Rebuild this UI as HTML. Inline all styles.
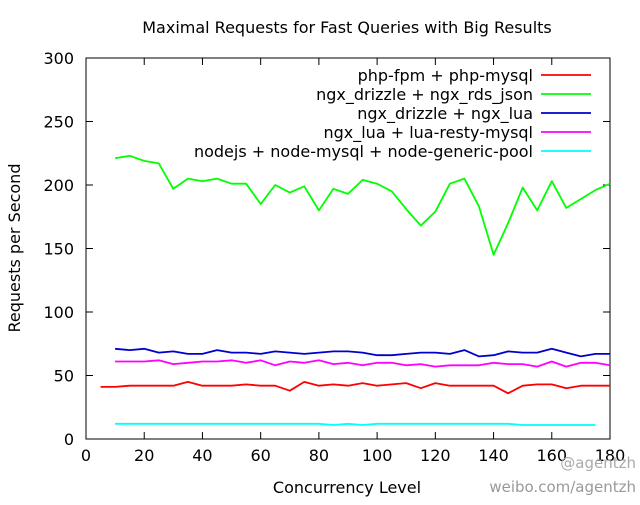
<!DOCTYPE html>
<html><head><meta charset="utf-8"><style>
body{margin:0;background:#fff}
svg text{font-family:"DejaVu Sans","Liberation Sans",sans-serif;fill:#000}
</style></head><body>
<svg id="chart" width="640" height="500" xmlns="http://www.w3.org/2000/svg">
<text x="347" y="33" font-size="16" text-anchor="middle">Maximal Requests for Fast Queries with Big Results</text>
<text x="0" y="0" font-size="16" text-anchor="middle" transform="translate(20,248) rotate(-90)">Requests per Second</text>
<text x="347" y="493" font-size="16" text-anchor="middle">Concurrency Level</text>
<g id="axes"></g><g id="series"></g><g id="legend"></g>
<text x="636" y="468" font-size="15" text-anchor="end" style="fill:#aaa">@agentzh</text>
<text x="636" y="492" font-size="15" text-anchor="end" style="fill:#999">weibo.com/agentzh</text>
</svg>
<script>
const xTicks=[0,20,40,60,80,100,120,140,160,180];
const yTicks=[0,50,100,150,200,250,300];
const seriesNames=["php-fpm + php-mysql","ngx_drizzle + ngx_rds_json","ngx_drizzle + ngx_lua","ngx_lua + lua-resty-mysql","nodejs + node-mysql + node-generic-pool"];
const seriesColors=["#ff0000","#00ff00","#0000cc","#ff00ff","#00ffff"];
const xRed=[5,10,15,20,25,30,35,40,45,50,55,60,65,70,75,80,85,90,95,100,105,110,115,120,125,130,135,140,145,150,155,160,165,170,175,180];
const xMain=[10,15,20,25,30,35,40,45,50,55,60,65,70,75,80,85,90,95,100,105,110,115,120,125,130,135,140,145,150,155,160,165,170,175,180];
const xCyan=[10,15,20,25,30,35,40,45,50,55,60,65,70,75,80,85,90,95,100,105,110,115,120,125,130,135,140,145,150,155,160,165,170,175];
const redVals=[41,41,42,42,42,42,45,42,42,42,43,42,42,38,45,42,43,42,44,42,43,44,40,44,42,42,42,42,36,42,43,43,40,42,42,42];
const greenVals=[221,223,219,217,197,205,203,205,201,201,185,200,194,199,180,197,193,204,201,195,181,168,179,201,205,183,145,170,198,180,203,182,189,196,201];
const blueVals=[71,70,71,68,69,67,67,70,68,68,67,69,68,67,68,69,69,68,66,66,67,68,68,67,70,65,66,69,68,68,71,68,65,67,67];
const magentaVals=[61,61,61,62,59,60,61,61,62,60,62,58,61,60,62,59,60,58,60,60,58,59,57,58,58,58,60,59,59,57,61,57,60,60,58];
const cyanVals=[12,12,12,12,12,12,12,12,12,12,12,12,12,12,12,11,12,11,12,12,12,12,12,12,12,12,12,12,11,11,11,11,11,11];

const L=86,R=610,T=58,B=439,NS="http://www.w3.org/2000/svg";
const xs=v=>L+(v-0)/(180-0)*(R-L);
const ys=v=>B-(v-0)/(300-0)*(B-T);
function mk(tag,attrs,parent){const e=document.createElementNS(NS,tag);for(const k in attrs)e.setAttribute(k,attrs[k]);parent.appendChild(e);return e;}
const axes=document.getElementById('axes');
const frame=mk('rect',{x:L,y:T,width:R-L,height:B-T,fill:'none',stroke:'#000','stroke-width':1},axes);


xTicks.forEach(t=>{
  const x=xs(t);
  const l1=mk('line',{x1:x,y1:B,x2:x,y2:B-7,stroke:'#000'},axes);
  
  
  const l2=mk('line',{x1:x,y1:T,x2:x,y2:T+7,stroke:'#000'},axes);
  
  
  const tx=mk('text',{x:x,y:B+22,'font-size':16,'text-anchor':'middle'},axes);
  tx.textContent=t;
  
  
});
yTicks.forEach(t=>{
  const y=ys(t);
  const l1=mk('line',{x1:L,y1:y,x2:L+7,y2:y,stroke:'#000'},axes);
  
  
  const l2=mk('line',{x1:R,y1:y,x2:R-7,y2:y,stroke:'#000'},axes);
  
  
  const tx=mk('text',{x:L-12,y:y+6,'font-size':16,'text-anchor':'end'},axes);
  tx.textContent=t;
  
  
});
const data=[[xRed,redVals],[xMain,greenVals],[xMain,blueVals],[xMain,magentaVals],[xCyan,cyanVals]];
const sg=document.getElementById('series');
data.forEach((d,i)=>{
  const pts=d[0].map((x,j)=>xs(x).toFixed(1)+','+ys(d[1][j]).toFixed(1)).join(' ');
  const p=mk('polyline',{points:pts,fill:'none',stroke:seriesColors[i],'stroke-width':1.8,'stroke-linejoin':'round'},sg);
  
  
});
const lg=document.getElementById('legend');
seriesNames.forEach((n,i)=>{
  const y=75+i*19;
  const t=mk('text',{x:533,y:y+6,'font-size':16,'text-anchor':'end'},lg);
  t.textContent=n;
  
  
  const l=mk('line',{x1:541,y1:y,x2:591,y2:y,stroke:seriesColors[i],'stroke-width':1.8},lg);
  
  
});
</script>
</body></html>
